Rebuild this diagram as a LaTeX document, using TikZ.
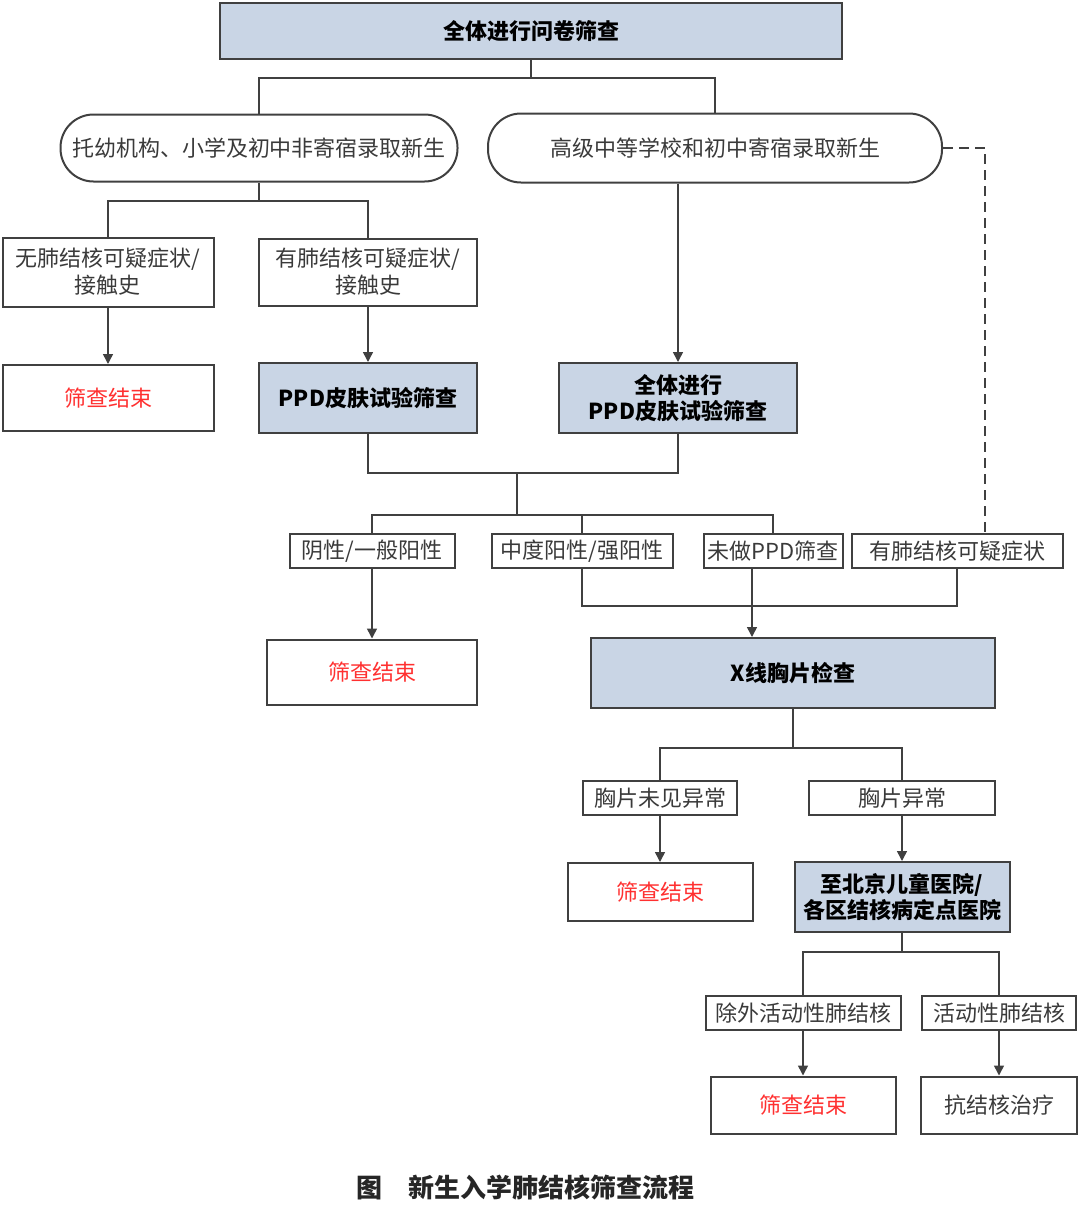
\documentclass[tikz,border=0pt]{standalone}
\usepackage{fontspec}
\setmainfont{Noto Sans CJK SC}
\usetikzlibrary{arrows.meta}
\definecolor{boxblue}{HTML}{C9D5E5}
\definecolor{linegray}{HTML}{404040}
\definecolor{textgray}{HTML}{3A3A3A}
\definecolor{stopred}{HTML}{FF3030}
\begin{document}
\begin{tikzpicture}[x=0.5pt, y=-0.5pt,
    sz/.style 2 args={minimum width=#1*0.5pt, minimum height=#2*0.5pt},
    base/.style={draw=linegray, line width=1pt, align=center, inner sep=0pt,
      text=textgray, font=\fontsize{11pt}{13.5pt}\selectfont},
    plainbox/.style={base},
    keybox/.style={base, fill=boxblue, text=black,
      font=\fontsize{11pt}{13pt}\selectfont\bfseries},
    pill/.style={base, rounded corners=16.5pt},
    stopbox/.style={base, text=stopred},
    link/.style={draw=linegray, line width=0.75pt},
    arrow/.style={link, -{Triangle[width=5pt,length=5pt]}}]
  \useasboundingbox (0,0) rectangle (1080,1211);
  % questionnaire and the two groups
  \node[keybox, sz={622}{56}] (quest) at (531,31) {全体进行问卷筛查};
  \node[pill, sz={397}{67}] (day) at (259,148) {托幼机构、小学及初中非寄宿录取新生};
  \node[pill, sz={454}{69}] (board) at (715,148) {高级中等学校和初中寄宿录取新生};
  % day school branch
  \node[plainbox, sz={211}{69}] (nosym) at (108,272) {无肺结核可疑症状/\\接触史};
  \node[plainbox, sz={218}{67}] (sym) at (368,272) {有肺结核可疑症状/\\接触史};
  \node[stopbox, sz={211}{66}] (end1) at (108,398) {筛查结束};
  \node[keybox, sz={218}{70}] (ppd1) at (368,398) {PPD皮肤试验筛查};
  \node[keybox, sz={238}{70}] (ppd2) at (678,398) {全体进行\\PPD皮肤试验筛查};
  % PPD results
  \node[plainbox, sz={165}{34}] (neg) at (372,551) {阴性/一般阳性};
  \node[plainbox, sz={181}{34}] (pos) at (582,551) {中度阳性/强阳性};
  \node[plainbox, sz={139}{34}] (noppd) at (773,551) {未做PPD筛查};
  \node[plainbox, sz={211}{34}] (susp) at (957,551) {有肺结核可疑症状};
  \node[stopbox, sz={210}{65}] (end2) at (372,672) {筛查结束};
  \node[keybox, sz={404}{70}] (xray) at (793,673) {X线胸片检查};
  % chest film results
  \node[plainbox, sz={154}{34}] (normal) at (660,798) {胸片未见异常};
  \node[plainbox, sz={186}{34}] (abnorm) at (902,798) {胸片异常};
  \node[stopbox, sz={185}{58}] (end3) at (660,892) {筛查结束};
  \node[keybox, sz={215}{70}] (hosp) at (902,897) {至北京儿童医院/\\各区结核病定点医院};
  % diagnosis
  \node[plainbox, sz={195}{34}] (notb) at (803,1013) {除外活动性肺结核};
  \node[plainbox, sz={154}{34}] (tb) at (999,1013) {活动性肺结核};
  \node[stopbox, sz={185}{57}] (end4) at (803,1105) {筛查结束};
  \node[plainbox, sz={156}{57}] (treat) at (999,1105) {抗结核治疗};
  \node[font=\fontsize{13pt}{15pt}\selectfont\bfseries, text=black!85] (cap)
    at (525,1188) {图\hspace{1em}新生入学肺结核筛查流程};
  % junctions
  \coordinate (j1) at (531,78);
  \coordinate (j2) at (259,201);
  \coordinate (j3) at (517,473);
  \coordinate (j4) at (517,515);
  \coordinate (j5) at (752,606);
  \coordinate (j6) at (793,748);
  \coordinate (j7) at (902,952);
  % connectors
  \draw[link] (quest.south) -- (j1);
  \draw[link] (day.north) |- (j1) -| (board.north);
  \draw[link] (day.south) -- (j2);
  \draw[link] (nosym.north) |- (j2) -| (sym.north);
  \draw[arrow] (nosym) -- (end1);
  \draw[arrow] (sym) -- (ppd1);
  \draw[arrow] (ppd2.north |- board.south) -- (ppd2.north);
  \draw[link, dashed, dash pattern=on 5pt off 3pt] (board.east) -| ([xshift=14pt]susp.north);
  \draw[link] (ppd1.south) |- (j3) -| (ppd2.south);
  \draw[link] (j3) -- (j4);
  \draw[link] (neg.north) |- (j4) -| (noppd.north);
  \draw[link] (j4) -| (pos.north);
  \draw[arrow] (neg) -- (end2);
  \draw[link] (pos.south) |- (j5) -| (susp.south);
  \draw[arrow] (j5 |- noppd.south) -- (j5 |- xray.north);
  \draw[link] (xray.south) -- (j6);
  \draw[link] (normal.north) |- (j6) -| (abnorm.north);
  \draw[arrow] (normal) -- (end3);
  \draw[arrow] (abnorm) -- (hosp);
  \draw[link] (hosp.south) -- (j7);
  \draw[link] (notb.north) |- (j7) -| (tb.north);
  \draw[arrow] (notb) -- (end4);
  \draw[arrow] (tb) -- (treat);
\end{tikzpicture}
\end{document}
